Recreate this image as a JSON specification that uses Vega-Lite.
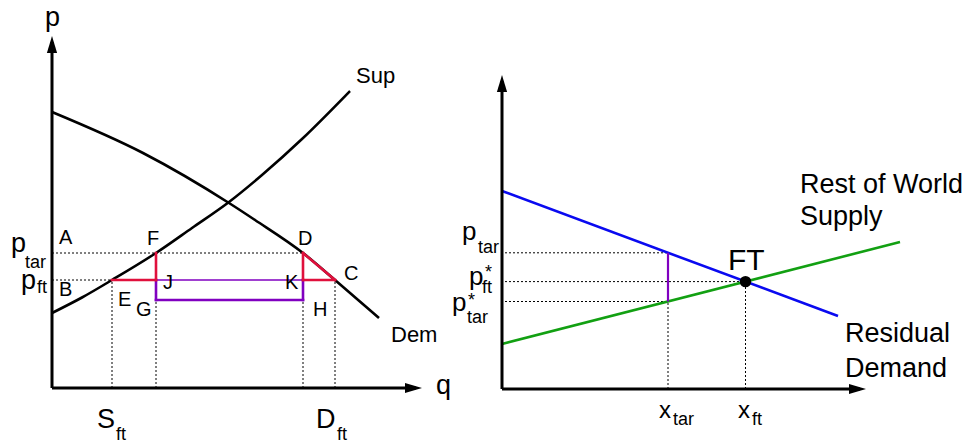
{
  "$schema": "https://vega.github.io/schema/vega-lite/v6.json",
  "padding": 0,
  "spacing": 0,
  "bounds": "flush",
  "background": "white",
  "config": {"view": {"stroke": null}, "font": "Liberation Sans", "text": {"font": "Liberation Sans", "color": "black"}},
  "datasets": {
    "L_curves": [
      {"curve": "Dem", "x": 0, "y": 27.6}, {"curve": "Dem", "x": 9.1, "y": 23.5}, {"curve": "Dem", "x": 17.7, "y": 18.5},
      {"curve": "Dem", "x": 20.3, "y": 16.8}, {"curve": "Dem", "x": 25.1, "y": 13.5}, {"curve": "Dem", "x": 28.3, "y": 10.8},
      {"curve": "Dem", "x": 32.7, "y": 7.0},
      {"curve": "Sup", "x": 0, "y": 7.5}, {"curve": "Sup", "x": 3, "y": 9.05}, {"curve": "Sup", "x": 6.0, "y": 10.8},
      {"curve": "Sup", "x": 10.4, "y": 13.5}, {"curve": "Sup", "x": 14, "y": 16.0}, {"curve": "Sup", "x": 17.7, "y": 18.6},
      {"curve": "Sup", "x": 21, "y": 21.3}, {"curve": "Sup", "x": 25, "y": 24.9}, {"curve": "Sup", "x": 29.8, "y": 29.7}
    ],
    "L_axes": [{"x": 0, "y": 0, "x2": 0, "y2": 34.6}, {"x": 0, "y": 0, "x2": 36.4, "y2": 0}],
    "L_dotted": [
      {"x": 0, "y": 13.5, "x2": 25.1, "y2": 13.5}, {"x": 0, "y": 10.8, "x2": 6.0, "y2": 10.8},
      {"x": 6.0, "y": 0, "x2": 6.0, "y2": 10.8}, {"x": 10.4, "y": 0, "x2": 10.4, "y2": 13.5},
      {"x": 25.1, "y": 0, "x2": 25.1, "y2": 13.5}, {"x": 28.3, "y": 0, "x2": 28.3, "y2": 10.8}
    ],
    "L_red": [
      {"x": 6.0, "y": 10.8, "x2": 10.4, "y2": 10.8}, {"x": 10.4, "y": 13.5, "x2": 10.4, "y2": 10.8},
      {"x": 25.1, "y": 13.5, "x2": 25.1, "y2": 10.8}, {"x": 25.1, "y": 10.8, "x2": 28.3, "y2": 10.8},
      {"x": 25.1, "y": 13.5, "x2": 28.3, "y2": 10.8}
    ],
    "L_purple_thin": [{"x": 10.4, "y": 10.8, "x2": 25.1, "y2": 10.8}],
    "L_purple": [
      {"x": 10.4, "y": 10.8, "x2": 10.4, "y2": 8.8}, {"x": 10.4, "y": 8.8, "x2": 25.1, "y2": 8.8},
      {"x": 25.1, "y": 8.8, "x2": 25.1, "y2": 10.8}
    ],
    "L_arrow_up": [{"x": 0, "y": 34.35}],
    "L_arrow_right": [{"x": 36.15, "y": 0}],
    "L_pts": [
      {"t": "A", "x": 0.7, "y": 14.4}, {"t": "F", "x": 9.5, "y": 14.3}, {"t": "D", "x": 24.6, "y": 14.3},
      {"t": "C", "x": 29.2, "y": 10.8}, {"t": "J", "x": 11.1, "y": 9.9}, {"t": "K", "x": 23.3, "y": 9.9},
      {"t": "E", "x": 6.6, "y": 8.2}, {"t": "G", "x": 8.4, "y": 7.2}, {"t": "H", "x": 26.1, "y": 7.2},
      {"t": "B", "x": 0.7, "y": 9.2}
    ],
    "L_big": [
      {"t": "p", "x": -4.1, "y": 13.6}, {"t": "p", "x": -3.1, "y": 9.9}, {"t": "S", "x": 4.5, "y": -4.0},
      {"t": "D", "x": 26.4, "y": -4.0}, {"t": "p", "x": -0.7, "y": 36.2}, {"t": "q", "x": 38.4, "y": -0.6}
    ],
    "L_sub": [
      {"t": "tar", "x": -2.7, "y": 12.0}, {"t": "ft", "x": -1.5, "y": 9.5},
      {"t": "ft", "x": 6.4, "y": -5.2}, {"t": "ft", "x": 28.5, "y": -5.2}
    ],
    "L_curvelab": [{"t": "Sup", "x": 30.4, "y": 30.5}, {"t": "Dem", "x": 33.9, "y": 4.6}],
    "R_axes": [{"x": 0, "y": 0, "x2": 0, "y2": 30.8}, {"x": 0, "y": 0, "x2": 35.8, "y2": 0}],
    "R_arrow_up": [{"x": 0, "y": 30.55}],
    "R_arrow_right": [{"x": 35.55, "y": 0}],
    "R_lines": [
      {"curve": "Residual Demand", "x": 0, "y": 19.8}, {"curve": "Residual Demand", "x": 33.6, "y": 7.3},
      {"curve": "Rest of World Supply", "x": 0, "y": 4.5}, {"curve": "Rest of World Supply", "x": 39.8, "y": 14.7}
    ],
    "R_dotted": [
      {"x": 0.3, "y": 13.62, "x2": 16.6, "y2": 13.62}, {"x": 0.3, "y": 10.74, "x2": 24.35, "y2": 10.74},
      {"x": 0.3, "y": 8.75, "x2": 16.6, "y2": 8.75}, {"x": 16.6, "y": 0, "x2": 16.6, "y2": 8.75},
      {"x": 24.35, "y": 0, "x2": 24.35, "y2": 10.74}
    ],
    "R_purple": [{"x": 16.6, "y": 8.75, "x2": 16.6, "y2": 13.62}],
    "R_dot": [{"x": 24.35, "y": 10.74}],
    "R_big": [{"t": "p", "x": -4.0, "y": 14.9}, {"t": "p", "x": -3.3, "y": 10.4}, {"t": "p", "x": -5.0, "y": 7.8}],
    "R_sub": [
      {"t": "tar", "x": -2.4, "y": 13.6}, {"t": "*", "x": -1.7, "y": 11.1}, {"t": "ft", "x": -2.0, "y": 9.6},
      {"t": "*", "x": -3.4, "y": 8.3}, {"t": "tar", "x": -3.5, "y": 6.6},
      {"t": "tar", "x": 17.1, "y": -3.6}, {"t": "ft", "x": 25.0, "y": -3.6}
    ],
    "R_x": [{"t": "x", "x": 15.7, "y": -2.9}, {"t": "x", "x": 23.6, "y": -2.9}],
    "R_lab": [
      {"t": "Rest of World", "x": 29.8, "y": 19.6}, {"t": "Supply", "x": 29.8, "y": 16.4},
      {"t": "Residual", "x": 34.3, "y": 4.7}, {"t": "Demand", "x": 34.3, "y": 1.2}
    ],
    "R_FT": [{"t": "FT", "x": 22.6, "y": 11.9}]
  },
  "hconcat": [
    {
      "width": 485,
      "height": 445,
      "encoding": {
        "x": {"field": "x", "type": "quantitative", "scale": {"domain": [-5.2, 43.3], "nice": false, "zero": false}, "axis": null},
        "y": {"field": "y", "type": "quantitative", "scale": {"domain": [-5.7, 38.8], "nice": false, "zero": false}, "axis": null}
      },
      "layer": [
        {"data": {"name": "L_dotted"}, "mark": {"type": "rule", "color": "black", "strokeWidth": 1, "strokeDash": [2, 2]},
         "encoding": {"x2": {"field": "x2"}, "y2": {"field": "y2"}}},
        {"data": {"name": "L_curves"}, "mark": {"type": "line", "color": "black", "strokeWidth": 2.6, "interpolate": "monotone"},
         "encoding": {"detail": {"field": "curve"}}},
        {"data": {"name": "L_purple_thin"}, "mark": {"type": "rule", "color": "#8000c0", "strokeWidth": 1.5},
         "encoding": {"x2": {"field": "x2"}, "y2": {"field": "y2"}}},
        {"data": {"name": "L_purple"}, "mark": {"type": "rule", "color": "#8000c0", "strokeWidth": 2.6, "strokeCap": "square"},
         "encoding": {"x2": {"field": "x2"}, "y2": {"field": "y2"}}},
        {"data": {"name": "L_red"}, "mark": {"type": "rule", "color": "#e0103c", "strokeWidth": 2.6, "strokeCap": "square"},
         "encoding": {"x2": {"field": "x2"}, "y2": {"field": "y2"}}},
        {"data": {"name": "L_axes"}, "mark": {"type": "rule", "color": "black", "strokeWidth": 3},
         "encoding": {"x2": {"field": "x2"}, "y2": {"field": "y2"}}},
        {"data": {"name": "L_arrow_up"}, "mark": {"type": "point", "filled": true, "color": "black", "opacity": 1, "size": 289, "shape": "M0,-1L0.6,1L-0.6,1Z"}},
        {"data": {"name": "L_arrow_right"}, "mark": {"type": "point", "filled": true, "color": "black", "opacity": 1, "size": 289, "shape": "M1,0L-1,-0.6L-1,0.6Z"}},
        {"data": {"name": "L_pts"}, "mark": {"type": "text", "align": "left", "baseline": "alphabetic", "fontSize": 20},
         "encoding": {"text": {"field": "t"}}},
        {"data": {"name": "L_big"}, "mark": {"type": "text", "align": "left", "baseline": "alphabetic", "fontSize": 27},
         "encoding": {"text": {"field": "t"}}},
        {"data": {"name": "L_sub"}, "mark": {"type": "text", "align": "left", "baseline": "alphabetic", "fontSize": 18},
         "encoding": {"text": {"field": "t"}}},
        {"data": {"name": "L_curvelab"}, "mark": {"type": "text", "align": "left", "baseline": "alphabetic", "fontSize": 22},
         "encoding": {"text": {"field": "t"}}}
      ]
    },
    {
      "width": 485,
      "height": 445,
      "encoding": {
        "x": {"field": "x", "type": "quantitative", "scale": {"domain": [-1.7, 46.8], "nice": false, "zero": false}, "axis": null},
        "y": {"field": "y", "type": "quantitative", "scale": {"domain": [-5.6, 38.9], "nice": false, "zero": false}, "axis": null}
      },
      "layer": [
        {"data": {"name": "R_dotted"}, "mark": {"type": "rule", "color": "black", "strokeWidth": 1, "strokeDash": [2, 2]},
         "encoding": {"x2": {"field": "x2"}, "y2": {"field": "y2"}}},
        {"data": {"name": "R_lines"}, "mark": {"type": "line", "strokeWidth": 2.6},
         "encoding": {"color": {"field": "curve", "type": "nominal", "legend": null,
           "scale": {"domain": ["Residual Demand", "Rest of World Supply"], "range": ["#0a0af0", "#12a012"]}}}},
        {"data": {"name": "R_purple"}, "mark": {"type": "rule", "color": "#8000c0", "strokeWidth": 2.2},
         "encoding": {"x2": {"field": "x2"}, "y2": {"field": "y2"}}},
        {"data": {"name": "R_dot"}, "mark": {"type": "point", "filled": true, "color": "black", "opacity": 1, "size": 130, "shape": "circle"}},
        {"data": {"name": "R_axes"}, "mark": {"type": "rule", "color": "black", "strokeWidth": 3},
         "encoding": {"x2": {"field": "x2"}, "y2": {"field": "y2"}}},
        {"data": {"name": "R_arrow_up"}, "mark": {"type": "point", "filled": true, "color": "black", "opacity": 1, "size": 289, "shape": "M0,-1L0.6,1L-0.6,1Z"}},
        {"data": {"name": "R_arrow_right"}, "mark": {"type": "point", "filled": true, "color": "black", "opacity": 1, "size": 289, "shape": "M1,0L-1,-0.6L-1,0.6Z"}},
        {"data": {"name": "R_big"}, "mark": {"type": "text", "align": "left", "baseline": "alphabetic", "fontSize": 26},
         "encoding": {"text": {"field": "t"}}},
        {"data": {"name": "R_sub"}, "mark": {"type": "text", "align": "left", "baseline": "alphabetic", "fontSize": 18},
         "encoding": {"text": {"field": "t"}}},
        {"data": {"name": "R_x"}, "mark": {"type": "text", "align": "left", "baseline": "alphabetic", "fontSize": 24},
         "encoding": {"text": {"field": "t"}}},
        {"data": {"name": "R_lab"}, "mark": {"type": "text", "align": "left", "baseline": "alphabetic", "fontSize": 27},
         "encoding": {"text": {"field": "t"}}},
        {"data": {"name": "R_FT"}, "mark": {"type": "text", "align": "left", "baseline": "alphabetic", "fontSize": 30},
         "encoding": {"text": {"field": "t"}}}
      ]
    }
  ]
}
